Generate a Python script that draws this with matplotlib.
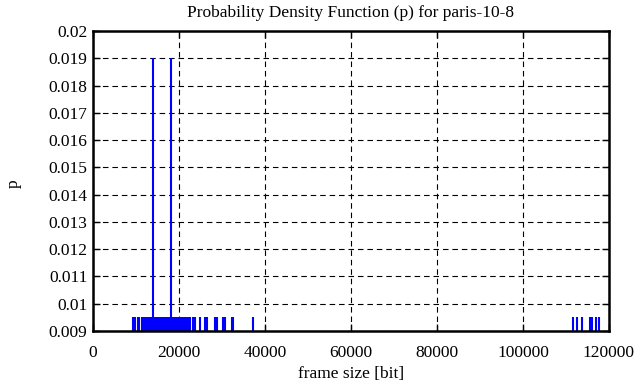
import matplotlib
matplotlib.use("Agg")
import matplotlib.pyplot as plt
from matplotlib.ticker import MultipleLocator

# frame sizes (bit) and their probabilities
peak_sizes = [13880, 18140]
peak_probs = [0.019, 0.019]

low_sizes = [9370, 9770, 10400, 10770, 11330, 11700,
             12090, 12300, 12520, 12750, 12980, 13200, 13430, 13650, 14100,
             14330, 14560, 14780, 15010, 15230, 15460, 15700, 15920, 16150,
             16370, 16600, 16830, 17050, 17280, 17500, 17730, 17950, 18380,
             18600, 18830, 19060, 19280, 19510, 19730, 19960, 20190, 20410,
             20640, 20870, 21090, 21320, 21540, 21770, 22000, 22230, 22560,
             23190, 23720, 24880, 26050, 26440, 28370, 28770, 30300, 30700,
             32260, 32630, 37140,
             111700, 112490, 113720, 115580, 116050, 116980, 117670]
low_prob = 0.0095

plt.rcParams['font.family'] = ['Liberation Serif', 'DejaVu Serif']

fig = plt.figure(figsize=(6.41, 3.87), dpi=100)
ax = fig.add_axes([0.1451, 0.1447, 0.8049, 0.7753])

ax.vlines(low_sizes, 0.009, low_prob, color='blue', lw=1.5)
ax.vlines(peak_sizes, 0.009, peak_probs, color='blue', lw=1.5)

ax.set_xlim(0, 120000)
ax.set_ylim(0.009, 0.02)
ax.xaxis.set_major_locator(MultipleLocator(20000))
ax.yaxis.set_major_locator(MultipleLocator(0.001))
ax.yaxis.set_major_formatter(plt.FuncFormatter(lambda v, p: f"{v:g}"))

ax.grid(True, color='black', linestyle=(0, (5, 3.5)), lw=0.8)
ax.tick_params(direction='in', length=5, width=1, top=True, right=True,
               labelsize=12.5)
ax.tick_params(axis='x', pad=10)
ax.tick_params(axis='y', pad=4)
for s in ax.spines.values():
    s.set_linewidth(1.8)

ax.set_xlabel('frame size [bit]', fontsize=12.5, labelpad=4)
ax.set_ylabel('p', fontsize=12.5)
ax.yaxis.set_label_coords(-0.138, 0.49)
ax.set_title('Probability Density Function (p) for paris-10-8', fontsize=12.5, pad=10)

fig.savefig('out.png', dpi=100)
